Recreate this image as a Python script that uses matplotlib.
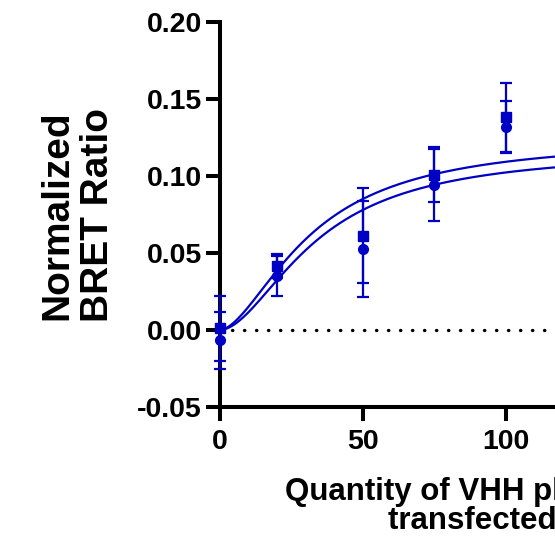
import numpy as np
import matplotlib
matplotlib.use('Agg')
import matplotlib.pyplot as plt

plt.rcParams['font.family'] = ['Liberation Sans', 'DejaVu Sans']
plt.rcParams['font.weight'] = 'bold'

# quantité de plasmide (ng) et moyennes +/- erreur
dose = [0, 20, 50, 75, 100]
sq_mean = [0.001, 0.0416, 0.0612, 0.1009, 0.138]
sq_err = [0.021, 0.008, 0.031, 0.018, 0.0226]
ci_mean = [-0.0065, 0.035, 0.0526, 0.094, 0.132]
ci_err = [0.0185, 0.013, 0.031, 0.0235, 0.017]

# parametres des courbes ajustees (Hill) : top, EC50, pente
fit_sq = (0.125, 32.0, 1.7)
fit_ci = (0.117, 34.0, 1.8)

x_ticks = [0, 50, 100, 150, 200]
y_ticks = [-0.05, 0.00, 0.05, 0.10, 0.15, 0.20]

BLEU = '#0000C4'

def hill(x, top, ec50, h):
    x = np.asarray(x, dtype=float)
    return top * x**h / (ec50**h + x**h)

fig = plt.figure(figsize=(5.55, 5.58), dpi=100)
ax = fig.add_axes([220/555, 151/558, 572/555, 385/558])

xx = np.linspace(0, 200, 400)
ax.plot(xx, hill(xx, *fit_sq), color=BLEU, lw=1.6, zorder=3)
ax.plot(xx, hill(xx, *fit_ci), color=BLEU, lw=1.6, zorder=3)

ax.axhline(0, color='black', lw=2.4, linestyle=(0, (0.1, 3.5)),
           dash_capstyle='round', zorder=2)

ax.errorbar(dose, sq_mean, yerr=sq_err, fmt='s', color=BLEU, ms=6.5,
            elinewidth=1.6, capsize=4, capthick=1.6, clip_on=False, zorder=5)
ax.errorbar(dose, ci_mean, yerr=ci_err, fmt='o', color=BLEU, ms=7,
            elinewidth=1.6, capsize=4, capthick=1.6, clip_on=False, zorder=5)

ax.set_xlim(0, 200)
ax.set_ylim(-0.05, 0.20)
ax.set_xticks(x_ticks)
ax.set_yticks(y_ticks)
ax.set_yticklabels([f'{v:.2f}' for v in y_ticks])
ax.tick_params(axis='both', labelsize=20.5, width=2.9, length=10)
ax.tick_params(axis='y', pad=3)
ax.tick_params(axis='x', pad=6)

for s in ['top', 'right']:
    ax.spines[s].set_visible(False)
for s in ['left', 'bottom']:
    ax.spines[s].set_linewidth(2.9)

ax.set_xlabel('Quantity of VHH plasmid DNA\ntransfected (ng)', fontsize=22.5,
              fontweight='bold', labelpad=16, linespacing=0.95)
fig.text(77.5/555, 1 - 215/558, 'Normalized\nBRET Ratio', rotation=90,
         ha='center', va='center', multialignment='center',
         fontsize=28, fontweight='bold', linespacing=1.15)

fig.savefig('out.png', dpi=100)
